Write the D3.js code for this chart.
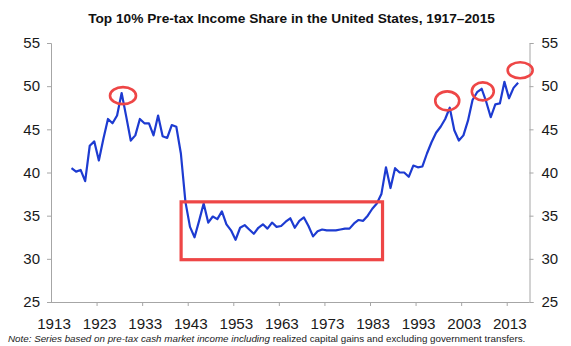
<!DOCTYPE html>
<html><head><meta charset="utf-8">
<script src="https://cdn.jsdelivr.net/npm/d3@7"></script>
<style>
html,body{margin:0;padding:0;background:#fff;}
svg{display:block;font-family:"Liberation Sans",Arial,sans-serif;}
</style>
</head><body>
<svg id="chart" width="571" height="346"></svg>
<script>
// ---- data ----
const titleText = "Top 10% Pre-tax Income Share in the United States, 1917\u20132015";
const noteItalic = "Note: Series based on pre-tax cash market income including";
const noteNormal = " realized capital gains and excluding government transfers.";

const firstYear = 1917;
const shares = [
  40.5, 40.1, 40.3, 39.0, 43.1, 43.6, 41.4, 43.9, 46.2, 45.7,   // 1917-1926
  46.6, 49.2, 46.5, 43.7, 44.3, 46.2, 45.7, 45.7, 44.3, 46.6,   // 1927-1936
  44.2, 44.0, 45.5, 45.3, 42.2, 36.6, 33.7, 32.5, 34.4, 36.4,   // 1937-1946
  34.2, 34.9, 34.6, 35.5, 34.0, 33.3, 32.2, 33.6, 33.9, 33.4,   // 1947-1956
  32.9, 33.6, 34.0, 33.5, 34.2, 33.7, 33.8, 34.3, 34.7, 33.6,   // 1957-1966
  34.4, 34.8, 33.8, 32.6, 33.2, 33.4, 33.3, 33.3, 33.3, 33.4,   // 1967-1976
  33.5, 33.5, 34.1, 34.5, 34.4, 35.0, 35.8, 36.4, 37.5, 40.6,   // 1977-1986
  38.2, 40.5, 40.0, 40.0, 39.5, 40.8, 40.6, 40.7, 42.2, 43.5,   // 1987-1996
  44.6, 45.3, 46.2, 47.5, 44.9, 43.7, 44.3, 46.0, 48.4, 49.3,   // 1997-2006
  49.7, 48.2, 46.4, 47.9, 48.0, 50.5, 48.6, 49.8, 50.4          // 2007-2015
];
const years = shares.map((d, i) => firstYear + i);

const axisFirstYear = 1913;
const axisLastYear = 2017;
const xTickYears = [1913, 1923, 1933, 1943, 1953, 1963, 1973, 1983, 1993, 2003, 2013];
const yTicks = [25, 30, 35, 40, 45, 50, 55];

// annotations (in data units)
const circleYears  = [1928.3, 1999.45, 2007.25, 2015.45];
const circleValues = [48.9, 48.3, 49.4, 51.85];
const boxYears  = [1941.05, 1985.25];
const boxValues = [36.6, 29.9];

// ---- layout ----
const svg = d3.select("#chart");
const L = 51, R = 529.5, T = 43, B = 302;

const x = d3.scaleLinear().domain([axisFirstYear - 0.5, axisLastYear + 0.5]).range([L, R]);
const y = d3.scaleLinear().domain([25, 55]).range([B, T]);

const axisColor = "#a6a6a6";
const textColor = "#1a1a1a";

// title
svg.append("text")
  .attr("x", 291.5).attr("y", 22.5)
  .attr("text-anchor", "middle")
  .attr("font-size", "13.7px").attr("font-weight", "bold")
  .attr("fill", "#111")
  .text(titleText);

// left axis
const gL = svg.append("g").attr("transform", `translate(${L},0)`)
  .call(d3.axisLeft(y).tickValues(yTicks).tickSize(4).tickPadding(7).tickFormat(d3.format("d")));
// right axis
const gR = svg.append("g").attr("transform", `translate(${R},0)`)
  .call(d3.axisRight(y).tickValues(yTicks).tickSize(4).tickPadding(8).tickFormat(d3.format("d")));
// bottom axis: ticks on category boundaries
const gB = svg.append("g").attr("transform", `translate(0,${B})`)
  .call(d3.axisBottom(x).tickValues(xTickYears.slice(1).map(v => v - 0.5)).tickSize(4).tickFormat(""));

[gL, gR, gB].forEach(g => {
  g.select(".domain").attr("stroke", axisColor).attr("stroke-width", 1);
  g.selectAll(".tick line").attr("stroke", axisColor);
  g.selectAll("text").attr("font-size", "15px").attr("fill", textColor)
    .attr("font-family", "'Liberation Sans', Arial, sans-serif");
});
gB.select(".domain").attr("d", `M${L},0.5H${R}`);

// bottom labels centered on categories
svg.append("g").selectAll("text").data(xTickYears).join("text")
  .attr("x", d => x(d) + 0.8)
  .attr("y", B + 27)
  .attr("text-anchor", "middle")
  .attr("font-size", "15.2px")
  .attr("fill", textColor)
  .text(d => d);

// series line
const line = d3.line().x((d, i) => x(years[i])).y(d => y(d));
svg.append("path")
  .datum(shares)
  .attr("d", line)
  .attr("fill", "none")
  .attr("stroke", "#1d3bd1")
  .attr("stroke-width", 2.2)
  .attr("stroke-linejoin", "round");

// annotations
const red = "#ee4646";
svg.append("rect")
  .attr("x", x(boxYears[0])).attr("y", y(boxValues[0]))
  .attr("width", x(boxYears[1]) - x(boxYears[0]))
  .attr("height", y(boxValues[1]) - y(boxValues[0]))
  .attr("fill", "none").attr("stroke", red).attr("stroke-width", 3.2);

const radii = [[13, 8.5], [12, 9.5], [11, 9], [12.5, 8]];
svg.append("g").selectAll("ellipse").data(circleYears).join("ellipse")
  .attr("cx", d => x(d))
  .attr("cy", (d, i) => y(circleValues[i]))
  .attr("rx", (d, i) => radii[i][0])
  .attr("ry", (d, i) => radii[i][1])
  .attr("fill", "none").attr("stroke", red).attr("stroke-width", 2.6);

// note
const note = svg.append("text")
  .attr("x", 8).attr("y", 342)
  .attr("font-size", "9.8px").attr("fill", "#222");
note.append("tspan").attr("font-style", "italic").text(noteItalic);
note.append("tspan").text(noteNormal);
</script>
</body></html>
